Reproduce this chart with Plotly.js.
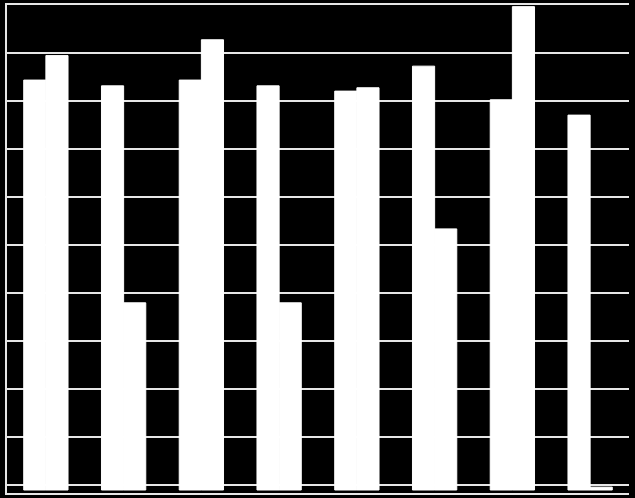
<!DOCTYPE html>
<html>
<head>
<meta charset="utf-8">
<script src="https://cdn.plot.ly/plotly-3.0.1.min.js"></script>
<style>
  html, body { margin: 0; padding: 0; background: #000; }
  #chart { width: 635px; height: 498px; }
</style>
</head>
<body>
<div id="chart"></div>
<script>
// values, one gridline = 10
const categories = ["1", "2", "3", "4", "5", "6", "7", "8"];
const seriesA = [85.4, 84.2, 85.4, 84.2, 83.1, 88.3, 81.3, 78.1];
const seriesB = [90.5, 39.0, 93.8, 39.0, 83.8, 54.4, 100.7, 0.6];

let traceA = {
    x: categories,
    y: seriesA,
    type: "bar",
    name: "A",
    marker: { color: "#ffffff", line: { color: "#ffffff", width: 1 } }
};

let traceB = {
    x: categories,
    y: seriesB,
    type: "bar",
    name: "B",
    marker: { color: "#ffffff", line: { color: "#ffffff", width: 1 } }
};

let layout = {
    width: 635, height: 498,
    margin: { l: 7, r: 6, t: 5, b: 5 },
    paper_bgcolor: "#000000",
    plot_bgcolor: "#000000",
    showlegend: false,
    barmode: "group",
    bargap: 0.43,
    bargroupgap: 0,
    xaxis: {
        type: "category",
        range: [-0.5, 7.5],
        showgrid: false,
        showticklabels: false,
        ticks: "",
        showline: true,
        mirror: true,
        linecolor: "#e6e6e6",
        linewidth: 2
    },
    yaxis: {
        range: [-0.625, 101.04],
        tick0: 1.04,
        dtick: 10,
        showticklabels: false,
        ticks: "",
        zeroline: false,
        showgrid: true,
        gridcolor: "#e6e6e6",
        gridwidth: 2,
        showline: true,
        mirror: false,
        linecolor: "#e6e6e6",
        linewidth: 2
    }
};

Plotly.newPlot("chart", [traceA, traceB], layout, { displayModeBar: false, staticPlot: true });
</script>
</body>
</html>
